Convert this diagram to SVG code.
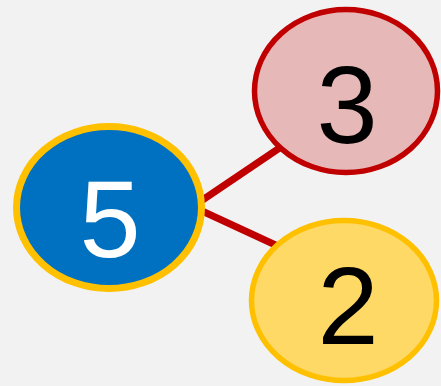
<svg xmlns="http://www.w3.org/2000/svg" width="441" height="386" viewBox="0 0 441 386">
<style>
.lbl{font-family:"Liberation Sans",Arial,sans-serif;font-size:110px;text-anchor:middle}
.edge{stroke:#c00000;stroke-width:7;fill:none}
</style>
<rect width="441" height="386" fill="#f2f2f2"/>
<g id="connectors">
<line class="edge" x1="201" y1="201" x2="281" y2="147"/>
<line class="edge" x1="202" y1="211" x2="282" y2="248"/>
</g>
<g id="node5">
<ellipse cx="109" cy="207.5" rx="92.5" ry="81" fill="#0070c0" stroke="#ffc000" stroke-width="7"/>
<text class="lbl" x="110" y="257" fill="#ffffff">5</text>
</g>
<g id="node3">
<ellipse cx="346" cy="91" rx="91.5" ry="81.5" fill="#e6b8b7" stroke="#c00000" stroke-width="5.5"/>
<text class="lbl" x="347" y="143" fill="#000000">3</text>
</g>
<g id="node2">
<ellipse cx="344" cy="300.5" rx="92.5" ry="80" fill="#ffd966" stroke="#ffc000" stroke-width="5.5"/>
<text class="lbl" x="348" y="344" fill="#000000">2</text>
</g>
</svg>
